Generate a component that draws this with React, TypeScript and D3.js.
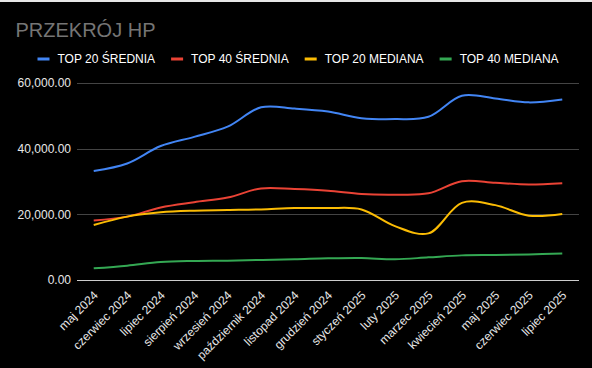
import { useEffect, useRef } from 'react';
import * as d3 from 'd3';

const months = [
  'maj 2024', 'czerwiec 2024', 'lipiec 2024', 'sierpień 2024', 'wrzesień 2024',
  'październik 2024', 'listopad 2024', 'grudzień 2024', 'styczeń 2025', 'luty 2025',
  'marzec 2025', 'kwiecień 2025', 'maj 2025', 'czerwiec 2025', 'lipiec 2025',
];

const top20Srednia = [33200, 35500, 40800, 43600, 46700, 52600, 52200, 51300, 49300, 49000, 49700, 56100, 55300, 54100, 55000];
const top40Srednia = [18100, 19300, 22100, 23700, 25100, 27900, 27700, 27200, 26200, 26000, 26400, 30100, 29600, 29100, 29500];
const top20Mediana = [16750, 19300, 20600, 21100, 21300, 21500, 21900, 21900, 21500, 16400, 14200, 23500, 22800, 19600, 20100];
const top40Mediana = [3550, 4370, 5480, 5800, 5900, 6100, 6300, 6600, 6700, 6300, 6900, 7500, 7600, 7800, 8100];

const seriesNames = ['TOP 20 ŚREDNIA', 'TOP 40 ŚREDNIA', 'TOP 20 MEDIANA', 'TOP 40 MEDIANA'];
const seriesColors = ['#4285f4', '#ea4335', '#fbbc04', '#34a853'];
const yTicks = [0, 20000, 40000, 60000];

export default function App() {
  const ref = useRef<SVGSVGElement>(null);

  useEffect(() => {
    if (!ref.current) return;
    const width = 592;
    const height = 368;
    const svg = d3.select(ref.current);
    svg.selectAll('*').remove();

    const font = '"Liberation Sans", Arial, sans-serif';

    // background
    svg.append('rect').attr('width', width).attr('height', height).attr('fill', '#000');
    svg.append('rect').attr('width', width).attr('height', 2).attr('fill', '#e6e6e6');

    // title
    svg.append('text')
      .attr('x', 15.5)
      .attr('y', 37)
      .attr('fill', '#757575')
      .style('font-family', font)
      .style('font-size', '20px')
      .text('PRZEKRÓJ HP');

    const margin = { left: 77, right: 13, top: 83, bottom: 88 };
    const x = d3.scaleBand<string>()
      .domain(months)
      .range([margin.left, width - margin.right]);
    const y = d3.scaleLinear()
      .domain([0, 60000])
      .range([height - margin.bottom, margin.top]);

    // grid
    svg.append('g')
      .selectAll('line')
      .data(yTicks)
      .enter()
      .append('line')
      .attr('x1', margin.left)
      .attr('x2', width - margin.right)
      .attr('y1', d => Math.round(y(d)) + 0.5)
      .attr('y2', d => Math.round(y(d)) + 0.5)
      .attr('stroke', d => (d === 0 ? '#cccccc' : '#444444'))
      .attr('stroke-width', 1);

    // y labels
    const fmt = d3.format(',.2f');
    svg.append('g')
      .selectAll('text')
      .data(yTicks)
      .enter()
      .append('text')
      .attr('x', margin.left - 6)
      .attr('y', d => y(d))
      .attr('dy', '0.35em')
      .attr('text-anchor', 'end')
      .attr('fill', '#e8e8e8')
      .style('font-family', font)
      .style('font-size', '12px')
      .text(d => fmt(d));

    // x labels
    svg.append('g')
      .selectAll('text')
      .data(months)
      .enter()
      .append('text')
      .attr('transform', d => `translate(${x(d)! + x.bandwidth() / 2 + 5},${y(0) + 16}) rotate(-45)`)
      .attr('text-anchor', 'end')
      .attr('fill', '#e8e8e8')
      .style('font-family', font)
      .style('font-size', '12px')
      .text(d => d);

    // lines
    const allSeries = [top20Srednia, top40Srednia, top20Mediana, top40Mediana];
    const line = d3.line<number>()
      .x((_, i) => x(months[i])! + x.bandwidth() / 2)
      .y(d => y(d))
      .curve(d3.curveCatmullRom.alpha(0.5));

    svg.append('g')
      .selectAll('path')
      .data(allSeries)
      .enter()
      .append('path')
      .attr('d', d => line(d))
      .attr('fill', 'none')
      .attr('stroke', (_, i) => seriesColors[i])
      .attr('stroke-width', 2);

    // legend
    const legend = svg.append('g');
    let lx = 37.5;
    seriesNames.forEach((name, i) => {
      legend.append('rect')
        .attr('x', lx)
        .attr('y', 57.5)
        .attr('width', 12)
        .attr('height', 3)
        .attr('fill', seriesColors[i]);
      const t = legend.append('text')
        .attr('x', lx + 20)
        .attr('y', 59)
        .attr('dy', '0.35em')
        .attr('fill', '#ffffff')
        .style('font-family', font)
        .style('font-size', '12px')
        .text(name);
      const w = (t.node() as SVGTextElement).getComputedTextLength();
      lx += 20 + w + 16;
    });
  }, []);

  return (
    <svg
      ref={ref}
      width={592}
      height={368}
      style={{ position: 'absolute', left: 0, top: 0, display: 'block' }}
    />
  );
}
